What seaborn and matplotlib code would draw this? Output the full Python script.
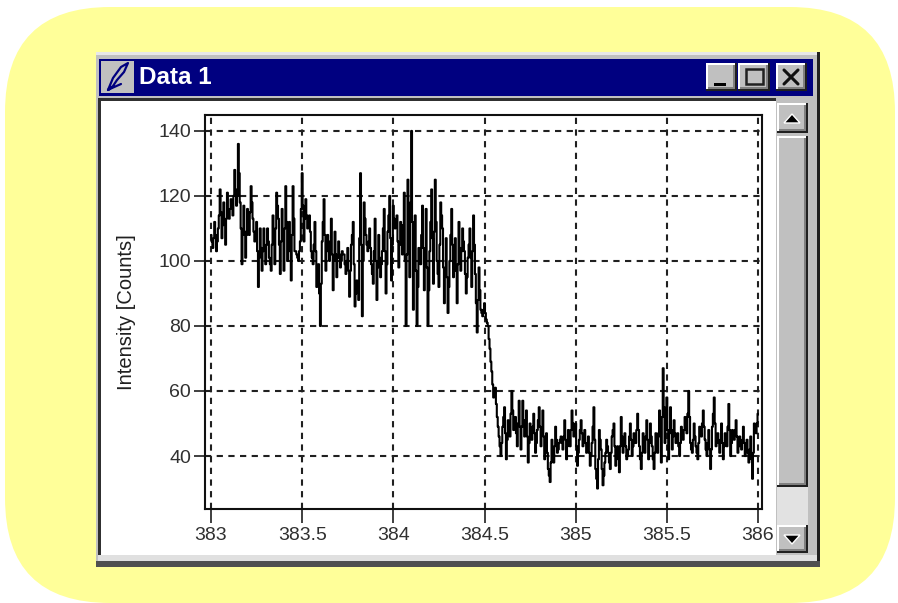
import pandas as pd
import seaborn as sns
import matplotlib.pyplot as plt
from matplotlib.patches import FancyBboxPatch, Rectangle, Polygon

title = "Data 1"
y_label = "Intensity [Counts]"
x_ticks = [383, 383.5, 384, 384.5, 385, 385.5, 386]
x_tick_labels = ["383", "383.5", "384", "384.5", "385", "385.5", "386"]
y_ticks = [40, 60, 80, 100, 120, 140]

start = 383.0
step = 0.005
# counts at whole 0.01 steps, one row per 0.1 on the x axis
counts = [
    108, 104, 112, 103, 110, 122, 107, 118, 105, 121,
    113, 119, 114, 128, 117, 136, 118, 99, 117, 101,
    116, 108, 123, 113, 106, 112, 92, 110, 97, 110,
    99, 110, 101, 97, 114, 99, 121, 113, 96, 116,
    97, 123, 100, 112, 94, 123, 103, 102, 100, 106,
    127, 106, 119, 110, 114, 103, 99, 112, 92, 99,
    80, 106, 119, 97, 108, 100, 113, 91, 109, 95,
    106, 98, 103, 102, 96, 104, 89, 105, 112, 86,
    94, 88, 127, 83, 118, 108, 103, 110, 99, 93,
    113, 88, 108, 95, 103, 116, 90, 109, 120, 94,
    117, 110, 114, 98, 112, 102, 121, 80, 125, 95,
    140, 85, 114, 80, 104, 99, 117, 91, 116, 80,
    103, 122, 93, 125, 100, 92, 118, 110, 87, 107,
    84, 100, 116, 95, 107, 87, 112, 97, 110, 103,
    90, 101, 110, 92, 114, 96, 78, 98, 85, 83,
    87, 82, 80, 73, 66, 58, 61, 52, 46, 40,
    49, 55, 39, 51, 46, 60, 48, 52, 43, 57,
    42, 57, 46, 54, 38, 50, 45, 53, 41, 48,
    55, 43, 54, 39, 47, 36, 32, 45, 38, 49,
    41, 44, 46, 42, 51, 39, 48, 43, 54, 46,
    50, 37, 45, 51, 43, 48, 41, 46, 37, 44,
    55, 36, 30, 48, 42, 31, 38, 45, 41, 36,
    46, 50, 37, 43, 35, 52, 41, 47, 39, 42,
    50, 40, 47, 44, 53, 43, 36, 47, 41, 51,
    39, 50, 43, 36, 47, 41, 54, 38, 67, 44,
    58, 39, 55, 42, 51, 44, 47, 40, 49, 45,
    52, 47, 60, 44, 41, 50, 43, 39, 49, 46,
    54, 45, 40, 48, 36, 49, 58, 43, 47, 41,
    50, 39, 47, 43, 56, 40, 48, 45, 51, 41,
    46, 42, 49, 40, 45, 38, 46, 33, 50, 47,
    53,
]
# counts in between those samples, mostly hidden inside the dark parts of the trace
counts_between = [
    106, 107, 108, 106, 114, 115, 111, 112, 113, 115,
    116, 117, 120, 122, 120, 127, 110, 108, 109, 108,
    112, 115, 118, 109, 109, 103, 101, 104, 103, 104,
    105, 106, 99, 105, 107, 110, 117, 105, 106, 107,
    110, 112, 106, 103, 108, 113, 103, 101, 103, 116,
    117, 113, 114, 112, 109, 101, 105, 103, 96, 90,
    93, 112, 108, 103, 104, 106, 102, 100, 102, 101,
    102, 100, 102, 99, 100, 97, 97, 108, 99, 90,
    91, 107, 105, 100, 113, 105, 106, 104, 96, 103,
    100, 98, 101, 99, 110, 103, 99, 114, 107, 105,
    113, 112, 106, 105, 107, 111, 100, 102, 110, 118,
    112, 100, 97, 92, 101, 108, 104, 103, 98, 91,
    112, 107, 109, 112, 96, 105, 114, 98, 97, 95,
    92, 108, 105, 101, 97, 99, 104, 103, 106, 96,
    95, 105, 101, 103, 105, 87, 88, 91, 84, 85,
    84, 81, 76, 69, 62, 59, 56, 49, 43, 44,
    52, 47, 45, 48, 53, 54, 50, 47, 50, 49,
    49, 51, 50, 46, 44, 47, 49, 47, 44, 51,
    49, 48, 46, 43, 41, 34, 38, 41, 43, 45,
    42, 45, 44, 46, 45, 43, 45, 48, 50, 48,
    43, 41, 48, 47, 45, 44, 43, 41, 40, 49,
    45, 33, 39, 45, 36, 34, 41, 43, 38, 41,
    48, 43, 40, 39, 43, 46, 44, 43, 40, 46,
    45, 43, 45, 48, 48, 39, 41, 44, 46, 45,
    44, 46, 39, 41, 44, 47, 46, 52, 55, 51,
    48, 47, 48, 46, 47, 45, 43, 44, 47, 48,
    49, 53, 52, 42, 45, 46, 41, 44, 47, 50,
    49, 42, 44, 42, 42, 53, 50, 45, 44, 45,
    44, 43, 45, 49, 48, 44, 46, 48, 46, 43,
    44, 45, 44, 42, 41, 42, 39, 41, 48, 50,
]

GREY = "#C0C0C0"
NAVY = "#000080"
YELLOW = "#FFFF99"
W, H = 898, 603

sns.set_theme(style="ticks")
plt.rcParams["font.family"] = ["Liberation Sans", "DejaVu Sans"]

fig = plt.figure(figsize=(W / 100, H / 100), dpi=100, facecolor="white")


def add_axes_px(left, top, right, bottom, **kw):
    return fig.add_axes([left / W, 1 - bottom / H, (right - left) / W, (bottom - top) / H], **kw)


# window chrome, in pixel coordinates of the screenshot
bg = fig.add_axes([0, 0, 1, 1])
bg.set_xlim(0, W)
bg.set_ylim(H, 0)
bg.axis("off")


def box(x0, y0, x1, y1, color, z=1):
    bg.add_patch(Rectangle((x0, y0), x1 - x0, y1 - y0, facecolor=color, edgecolor="none", zorder=z))


def raised(x0, y0, x1, y1, z=3):
    box(x0, y0, x1, y1, "#202020", z)
    box(x0, y0, x1 - 2, y1 - 2, "white", z)
    box(x0 + 2, y0 + 2, x1 - 2, y1 - 2, "#808080", z)
    box(x0 + 2, y0 + 2, x1 - 4, y1 - 4, GREY, z)


bg.add_patch(FancyBboxPatch((5, 7), 890, 596, boxstyle="round,pad=0,rounding_size=105",
                            facecolor=YELLOW, edgecolor="none", zorder=0))

box(96, 52, 820, 567, "#202020")
box(96, 52, 817, 564, GREY)
box(96, 52, 817, 55, "#E8E8E8")
box(99, 59, 813, 96, NAVY, 2)
box(98, 98, 776, 557, "#303030", 2)
box(101, 101, 776, 555, "white", 2)
box(776, 98, 813, 557, GREY, 2)
box(98, 555, 817, 561, "#E0E0E0", 2)
box(96, 561, 820, 567, "#505050", 2)

# title bar icon
box(101, 61, 134, 93, GREY, 3)
bg.plot([108, 113, 121, 128, 124, 117, 113, 108, 112, 121],
        [90, 78, 67, 63, 72, 80, 86, 90, 88, 84],
        color=NAVY, lw=1.6, zorder=4, solid_capstyle="round")
bg.text(139, 77, title, color="white", fontsize=17.5, fontweight="bold", va="center", zorder=4)

# title bar buttons
for left, right in [(706, 737), (738, 770), (776, 807)]:
    raised(left, 63, right, 91)
box(714, 83, 726, 86, "black", 5)
bg.add_patch(Rectangle((746, 69), 17, 15, facecolor="none", edgecolor="#202020", lw=1.8, zorder=5))
bg.plot([784, 798], [70, 84], color="#101010", lw=2.2, zorder=5)
bg.plot([784, 798], [84, 70], color="#101010", lw=2.2, zorder=5)

# scroll bar
raised(777, 103, 808, 133)
raised(777, 136, 808, 487)
box(777, 487, 808, 525, "#E2E2E2", 3)
raised(777, 525, 808, 553)
bg.add_patch(Polygon([[784, 123], [800, 123], [792, 114]], facecolor="black", zorder=5))
bg.add_patch(Polygon([[784, 535], [800, 535], [792, 544]], facecolor="black", zorder=5))

# plot
merged = []
for i, value in enumerate(counts):
    merged.append(value)
    if i < len(counts_between):
        merged.append(counts_between[i])

scan = pd.DataFrame({
    "wavelength": [start + i * step for i in range(len(merged))],
    "counts": merged,
})

ax = add_axes_px(205, 115, 762, 509, facecolor="white")
sns.lineplot(data=scan, x="wavelength", y="counts", estimator=None, errorbar=None,
             color="black", linewidth=1.5, drawstyle="steps-mid", ax=ax, zorder=3)
ax.set_xlim(382.967, 386.022)
ax.set_ylim(23.7, 144.9)
ax.set_xticks(x_ticks, x_tick_labels)
ax.set_yticks(y_ticks)
ax.set_xlabel("")
ax.set_ylabel(y_label, fontsize=14.5, color="#202020", labelpad=16)
ax.grid(True, color="#202020", linestyle=(0, (3, 2.6)), linewidth=1.5)
ax.set_axisbelow(True)
ax.tick_params(axis="x", length=10, width=1.3, labelsize=14, pad=3, colors="#303030")
ax.tick_params(axis="y", length=8, width=1.3, labelsize=14, pad=2, colors="#303030")
for spine in ax.spines.values():
    spine.set_visible(True)
    spine.set_linewidth(1.5)
    spine.set_color("#101010")

fig.savefig("out.png", dpi=100, facecolor="white")
